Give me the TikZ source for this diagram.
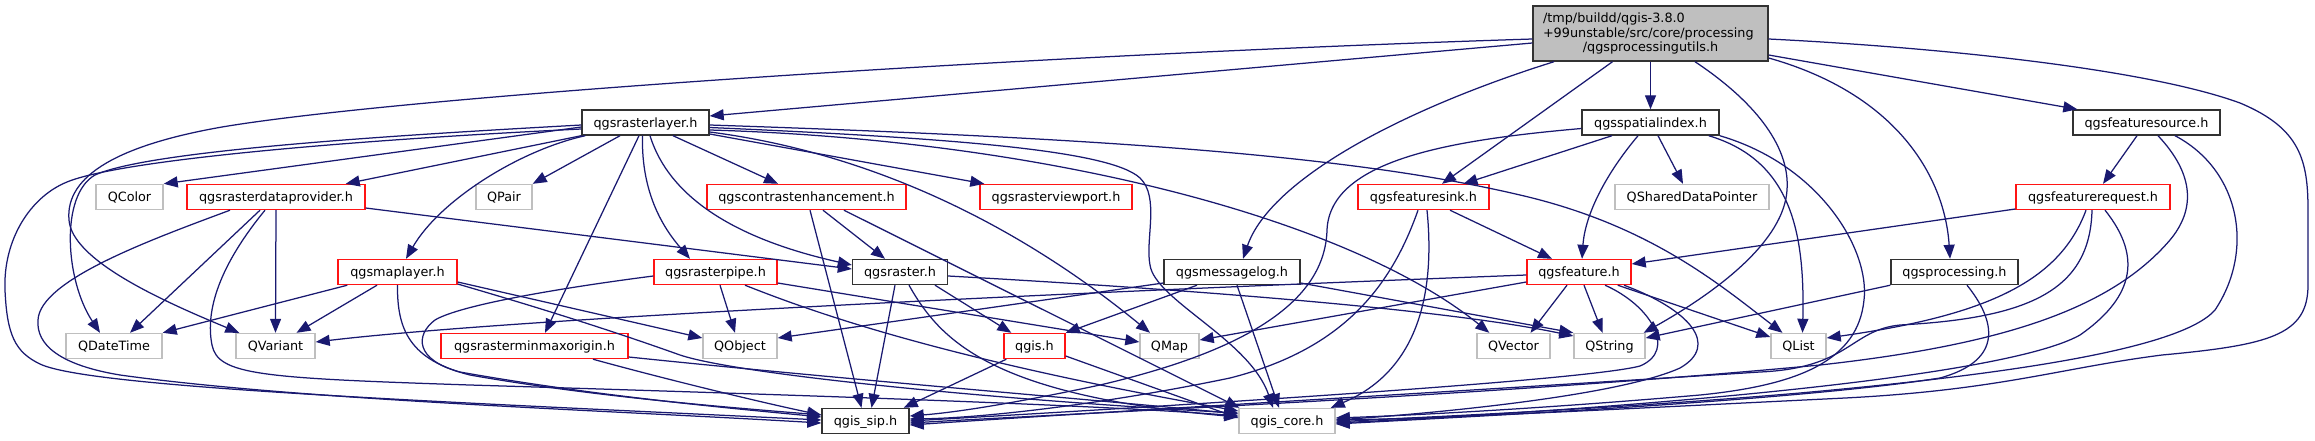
\documentclass[tikz,border=0pt]{standalone}
\usepackage{fontspec}
\setmainfont{DejaVu Sans}
\usetikzlibrary{arrows.meta,calc}
\definecolor{edgec}{RGB}{25,25,112}
\definecolor{gryc}{RGB}{191,191,191}
\definecolor{blkc}{RGB}{50,50,50}
\definecolor{rdc}{RGB}{255,20,20}
\begin{document}
\begin{tikzpicture}[x=1pt,y=-1pt,
 nb/.style={rectangle, draw, inner sep=0pt, minimum height=25pt, line width=1.4pt, font=\fontsize{12.8}{15}\selectfont, text height=10.5pt, text depth=1.5pt},
 bk/.style={nb, draw=blkc},
 rd/.style={nb, draw=rdc},
 gy/.style={nb, draw=gryc},
 edg/.style={draw=edgec, line width=1.25pt, -{Triangle[length=14pt,width=11pt]}}]
\path[use as bounding box] (0,0) rectangle (2315,440);
% nodes
\node[rectangle, draw=blkc, fill=gryc, line width=1.4pt, minimum width=235pt, minimum height=55pt, inner xsep=10pt, inner ysep=2pt, text width=215pt, align=left, font=\fontsize{12.8}{14.7}\selectfont] (main) at (1650.5,33.5) {/tmp/buildd/qgis-3.8.0\\+99unstable/src/core/processing\\\makebox[\hsize][c]{/qgsprocessingutils.h}};
\node[bk, minimum width=127pt] (rlayer) at (645.5,122.5) {qgsrasterlayer.h};
\node[bk, minimum width=137pt] (spidx) at (1650.5,122.5) {qgsspatialindex.h};
\node[bk, minimum width=147pt] (fsrc) at (2146.5,122.5) {qgsfeaturesource.h};
\node[gy, minimum width=67pt] (qcolor) at (129.5,197) {QColor};
\node[rd, minimum width=178pt] (rdp) at (276,197) {qgsrasterdataprovider.h};
\node[gy, minimum width=56pt] (qpair) at (504,197) {QPair};
\node[rd, minimum width=199pt] (contrast) at (806.5,197) {qgscontrastenhancement.h};
\node[rd, minimum width=152pt] (viewport) at (1056,197) {qgsrasterviewport.h};
\node[rd, minimum width=131pt] (fsink) at (1423.5,197) {qgsfeaturesink.h};
\node[gy, minimum width=154pt] (qshared) at (1692,197) {QSharedDataPointer};
\node[rd, minimum width=154pt] (freq) at (2093,197) {qgsfeaturerequest.h};
\node[rd, minimum width=119pt] (maplayer) at (397.5,272) {qgsmaplayer.h};
\node[rd, minimum width=123pt] (rpipe) at (715.5,272) {qgsrasterpipe.h};
\node[bk, minimum width=95pt] (raster) at (900,272) {qgsraster.h};
\node[bk, minimum width=136pt] (msglog) at (1232,272) {qgsmessagelog.h};
\node[rd, minimum width=104pt] (feature) at (1579,272) {qgsfeature.h};
\node[bk, minimum width=127pt] (proc) at (1954.5,272) {qgsprocessing.h};
\node[gy, minimum width=96pt] (qdatetime) at (114,346) {QDateTime};
\node[gy, minimum width=79pt] (qvariant) at (275.5,346) {QVariant};
\node[rd, minimum width=187pt] (minmax) at (534.5,346) {qgsrasterminmaxorigin.h};
\node[gy, minimum width=74pt] (qobject) at (740,346) {QObject};
\node[rd, minimum width=61pt] (qgis) at (1034.5,346) {qgis.h};
\node[gy, minimum width=59pt] (qmap) at (1169.5,346) {QMap};
\node[gy, minimum width=73pt] (qvector) at (1513.5,346) {QVector};
\node[gy, minimum width=71pt] (qstring) at (1609.5,346) {QString};
\node[gy, minimum width=55pt] (qlist) at (1798.5,346) {QList};
\node[bk, minimum width=87pt] (sip) at (865.5,421) {qgis\_sip.h};
\node[gy, minimum width=96pt] (core) at (1287,421) {qgis\_core.h};
% main edges
\draw[edg] ($(main.west)+(0,9.5)$) -- ($(rlayer.east)+(0,-6.5)$);
\draw[edg] ($(main.west)+(0,5.5)$) .. controls (1000,56) and (400,97) .. (222,127) .. controls (120,145) and (65,175) .. (69,220) .. controls (72,260) and (160,300) .. ($(qvariant.north west)+(4,0)$);
\draw[edg] ($(main.south)+(-38,0)$) -- ($(fsink.north)+(18.5,0)$);
\draw[edg] ($(main.south)+(-96.5,0)$) .. controls (1400,110) and (1270,180) .. ($(msglog.north)+(11,0)$);
\draw[edg] (main.south) -- (spidx.north);
\draw[edg] ($(main.east)+(0,21.5)$) -- ($(fsrc.north west)+(5,0)$);
\draw[edg] ($(main.east)+(0,24.5)$) .. controls (1900,95) and (1945,180) .. ($(proc.north)+(-4.5,0)$);
\draw[edg] ($(main.south)+(44.5,0)$) .. controls (1760,105) and (1790,150) .. (1787,190) .. controls (1784,240) and (1720,290) .. ($(qstring.north east)+(-2,0)$);
\draw[edg] ($(main.east)+(0,5.5)$) .. controls (1950,48) and (2150,70) .. (2240,103) .. controls (2300,128) and (2308,160) .. (2308,210) -- (2308,285) .. controls (2308,335) and (2270,345) .. (2162,355) .. controls (2060,368) and (2000,390) .. (1845,398) .. controls (1600,410) and (1450,418) .. ($(core.east)+(0,-1)$);
% rasterlayer edges
\draw[edg] ($(rlayer.west)+(0,4.5)$) -- (qcolor.north east);
\draw[edg] (rlayer.south west) -- ($(rdp.north east)+(-20,0)$);
\draw[edg] ($(rlayer.south)+(-25.5,0)$) -- (qpair.north east);
\draw[edg] ($(rlayer.south)+(27.5,0)$) -- ($(contrast.north)+(-28.5,0)$);
\draw[edg] ($(rlayer.east)+(0,11.5)$) -- ($(viewport.north west)+(5,0)$);
\draw[edg] ($(rlayer.south west)+(4,0)$) .. controls (520,150) and (440,200) .. ($(maplayer.north)+(8.5,0)$);
\draw[edg] ($(rlayer.south)+(-6.5,0)$) -- ($(minmax.north)+(10.5,0)$);
\draw[edg] ($(rlayer.south)+(-3,0)$) .. controls (641,195) and (665,230) .. ($(rpipe.north)+(-25.5,0)$);
\draw[edg] ($(rlayer.south)+(4.5,0)$) .. controls (670,200) and (740,240) .. ($(raster.west)+(0,-7)$);
\draw[edg] ($(rlayer.west)+(0,2.5)$) .. controls (400,135) and (150,150) .. (95,175) .. controls (60,195) and (65,280) .. ($(qdatetime.north)+(-14,0)$);
\draw[edg] ($(rlayer.west)+(0,6.5)$) .. controls (350,140) and (120,160) .. (67,182) .. controls (30,197) and (3,240) .. (5,290) .. controls (7,335) and (15,352) .. (40,364) .. controls (90,388) and (450,402) .. ($(sip.west)+(0,-1)$);
\draw[edg] ($(rlayer.east)+(0,2.5)$) .. controls (1100,138) and (1350,155) .. (1520,195) .. controls (1650,225) and (1720,285) .. ($(qlist.north)+(-16,0)$);
\draw[edg] ($(rlayer.east)+(0,7.5)$) .. controls (1050,140) and (1350,220) .. ($(qvector.north west)+(13,0)$);
\draw[edg] ($(rlayer.east)+(0,5)$) .. controls (950,138) and (1110,150) .. (1140,178) .. controls (1160,197) and (1145,240) .. (1150,265) .. controls (1155,300) and (1250,340) .. ($(core.north)+(-14,0)$);
\draw[edg] ($(rlayer.east)+(0,9.5)$) .. controls (850,150) and (1000,210) .. ($(qmap.north)+(-19.5,0)$);
% rasterdataprovider edges
\draw[edg] ($(rdp.east)+(0,11)$) -- ($(raster.west)+(0,-3)$);
\draw[edg] ($(rdp.south)+(-46,0)$) .. controls (150,240) and (40,280) .. (38,320) .. controls (36,345) and (60,365) .. (120,375) .. controls (300,400) and (600,410) .. ($(sip.west)+(0,2)$);
\draw[edg] ($(rdp.south)+(-16,0)$) -- ($(qdatetime.north)+(16,0)$);
\draw[edg] ($(rdp.south)+(-11,0)$) .. controls (220,265) and (205,310) .. (212,345) .. controls (218,375) and (260,378) .. (470,385) .. controls (800,395) and (1100,405) .. ($(core.west)+(0,-5)$);
\draw[edg] (rdp.south) -- (qvariant.north);
% maplayer edges
\draw[edg] ($(maplayer.south west)+(10,0)$) -- (qdatetime.north east);
\draw[edg] ($(maplayer.south)+(-20.5,0)$) -- ($(qvariant.north)+(21,0)$);
\draw[edg] (maplayer.south) .. controls (397,330) and (410,360) .. (470,375) .. controls (600,398) and (750,409) .. ($(sip.west)+(0,-6)$);
\draw[edg] ($(maplayer.east)+(0,10)$) -- ($(qobject.west)+(0,-8)$);
\draw[edg] ($(maplayer.east)+(0,12)$) .. controls (540,308) and (610,330) .. (680,355) .. controls (740,375) and (1000,400) .. ($(core.west)+(0,-8)$);
% rasterpipe edges
\draw[edg] ($(rpipe.south)+(4.5,0)$) -- ($(qobject.north)+(-5,0)$);
\draw[edg] ($(rpipe.west)+(0,4)$) .. controls (560,288) and (460,305) .. (435,320) .. controls (415,335) and (415,360) .. (460,372) .. controls (600,397) and (750,410) .. ($(sip.west)+(0,-4)$);
\draw[edg] ($(rpipe.east)+(0,11)$) -- ($(qmap.west)+(0,-4)$);
\draw[edg] ($(rpipe.south)+(29.5,0)$) .. controls (820,315) and (950,360) .. ($(core.west)+(0,-10)$);
% contrast edges
\draw[edg] ($(contrast.south)+(16.5,0)$) -- ($(raster.north)+(-15,0)$);
\draw[edg] ($(contrast.south)+(3.5,0)$) -- ($(sip.north)+(-4,0)$);
\draw[edg] ($(contrast.south)+(37.5,0)$) -- ($(core.north west)+(1,0)$);
% raster edges
\draw[edg] ($(raster.south)+(-5,0)$) -- ($(sip.north)+(6,0)$);
\draw[edg] ($(raster.south)+(35,0)$) -- ($(qgis.north west)+(8,0)$);
\draw[edg] ($(raster.south)+(9,0)$) .. controls (940,340) and (990,395) .. ($(core.west)+(0,-4)$);
\draw[edg] ($(raster.east)+(0,4)$) .. controls (1200,290) and (1450,310) .. ($(qstring.west)+(0,-10)$);
% minmax edges
\draw[edg] ($(minmax.south)+(58.5,0)$) .. controls (650,375) and (750,400) .. ($(sip.west)+(0,-6)$);
\draw[edg] ($(minmax.east)+(0,11)$) .. controls (850,380) and (1100,400) .. ($(core.west)+(0,-7)$);
% qgis edges
\draw[edg] ($(qgis.south west)+(3,0)$) -- ($(sip.north east)+(-6,0)$);
\draw[edg] ($(qgis.east)+(0,10)$) -- ($(core.west)+(0,-3)$);
% messagelog edges
\draw[edg] ($(msglog.south)+(-35,0)$) -- (qgis.north east);
\draw[edg] ($(msglog.south)+(5,0)$) -- ($(core.north)+(-8,0)$);
\draw[edg] ($(msglog.east)+(0,11)$) -- (qstring.north west);
\draw[edg] ($(msglog.west)+(0,11)$) -- ($(qobject.east)+(0,-8)$);
% spatialindex edges
\draw[edg] ($(spidx.south)+(-38.5,0)$) -- ($(fsink.north)+(40,0)$);
\draw[edg] ($(spidx.south)+(-12.5,0)$) .. controls (1605,175) and (1585,215) .. ($(feature.north)+(3,0)$);
\draw[edg] ($(spidx.south)+(7.5,0)$) -- ($(qshared.north)+(-9,0)$);
\draw[edg] ($(spidx.south east)+(-11,0)$) .. controls (1790,160) and (1805,230) .. ($(qlist.north)+(4,0)$);
\draw[edg] ($(spidx.west)+(0,6)$) .. controls (1450,140) and (1330,160) .. (1327,230) .. controls (1325,300) and (1250,350) .. (1100,385) .. controls (1020,402) and (960,412) .. ($(sip.east)+(0,-5)$);
\draw[edg] (spidx.south east) .. controls (1820,165) and (1870,250) .. (1864,300) .. controls (1858,360) and (1800,385) .. (1700,395) .. controls (1550,408) and (1420,415) .. ($(core.east)+(0,-3)$);
% featuresink edges
\draw[edg] ($(fsink.south)+(26.5,0)$) -- ($(feature.north)+(-27,0)$);
\draw[edg] ($(fsink.south)+(-5.5,0)$) .. controls (1390,290) and (1340,350) .. (1230,378) .. controls (1100,405) and (980,418) .. ($(sip.east)+(0,-2)$);
\draw[edg] ($(fsink.south)+(3.5,0)$) .. controls (1435,290) and (1420,370) .. ($(core.north east)+(-5,0)$);
% feature edges
\draw[edg] ($(feature.west)+(0,3)$) .. controls (1000,295) and (500,320) .. ($(qvariant.east)+(0,-4)$);
\draw[edg] ($(feature.west)+(0,10)$) -- ($(qmap.east)+(0,-6)$);
\draw[edg] ($(feature.south)+(-12,0)$) -- ($(qvector.north)+(17,0)$);
\draw[edg] ($(feature.south)+(5,0)$) -- ($(qstring.north)+(-7,0)$);
\draw[edg] ($(feature.south east)+(-14,0)$) -- ($(qlist.west)+(0,-9)$);
\draw[edg] ($(feature.south)+(26,0)$) .. controls (1650,305) and (1678,350) .. (1640,366) .. controls (1580,382) and (1100,410) .. (sip.east);
\draw[edg] ($(feature.south)+(45,0)$) .. controls (1690,310) and (1720,345) .. (1680,368) .. controls (1620,395) and (1450,412) .. ($(core.east)+(0,-1)$);
% featuresource edges
\draw[edg] ($(fsrc.south)+(-9.5,0)$) -- ($(freq.north)+(10,0)$);
\draw[edg] ($(fsrc.south)+(11.5,0)$) .. controls (2195,175) and (2195,210) .. (2170,240) .. controls (2110,310) and (2000,345) .. (1820,365) .. controls (1500,395) and (1100,412) .. ($(sip.east)+(0,2)$);
\draw[edg] ($(fsrc.south)+(28.5,0)$) .. controls (2240,170) and (2255,250) .. (2215,310) .. controls (2180,350) and (2000,375) .. (1800,393) .. controls (1600,410) and (1420,417) .. ($(core.east)+(0,1)$);
% featurerequest edges
\draw[edg] ($(freq.west)+(0,12)$) -- ($(feature.east)+(0,-8)$);
\draw[edg] ($(freq.south)+(-7,0)$) .. controls (2060,280) and (1990,315) .. ($(qlist.east)+(0,-8)$);
\draw[edg] ($(freq.south)+(-1,0)$) .. controls (2090,290) and (2030,318) .. (1900,325) .. controls (1850,330) and (1850,368) .. (1760,372) .. controls (1400,395) and (1100,412) .. ($(sip.east)+(0,4)$);
\draw[edg] ($(freq.south)+(12,0)$) .. controls (2145,260) and (2130,300) .. (2080,335) .. controls (2000,380) and (1600,410) .. ($(core.east)+(0,2)$);
% processing edges
\draw[edg] (proc.south west) -- ($(qstring.east)+(0,-8)$);
\draw[edg] ($(proc.south)+(12.5,0)$) .. controls (1995,320) and (2005,360) .. (1940,378) .. controls (1800,400) and (1500,415) .. ($(core.east)+(0,3)$);
\end{tikzpicture}
\end{document}
